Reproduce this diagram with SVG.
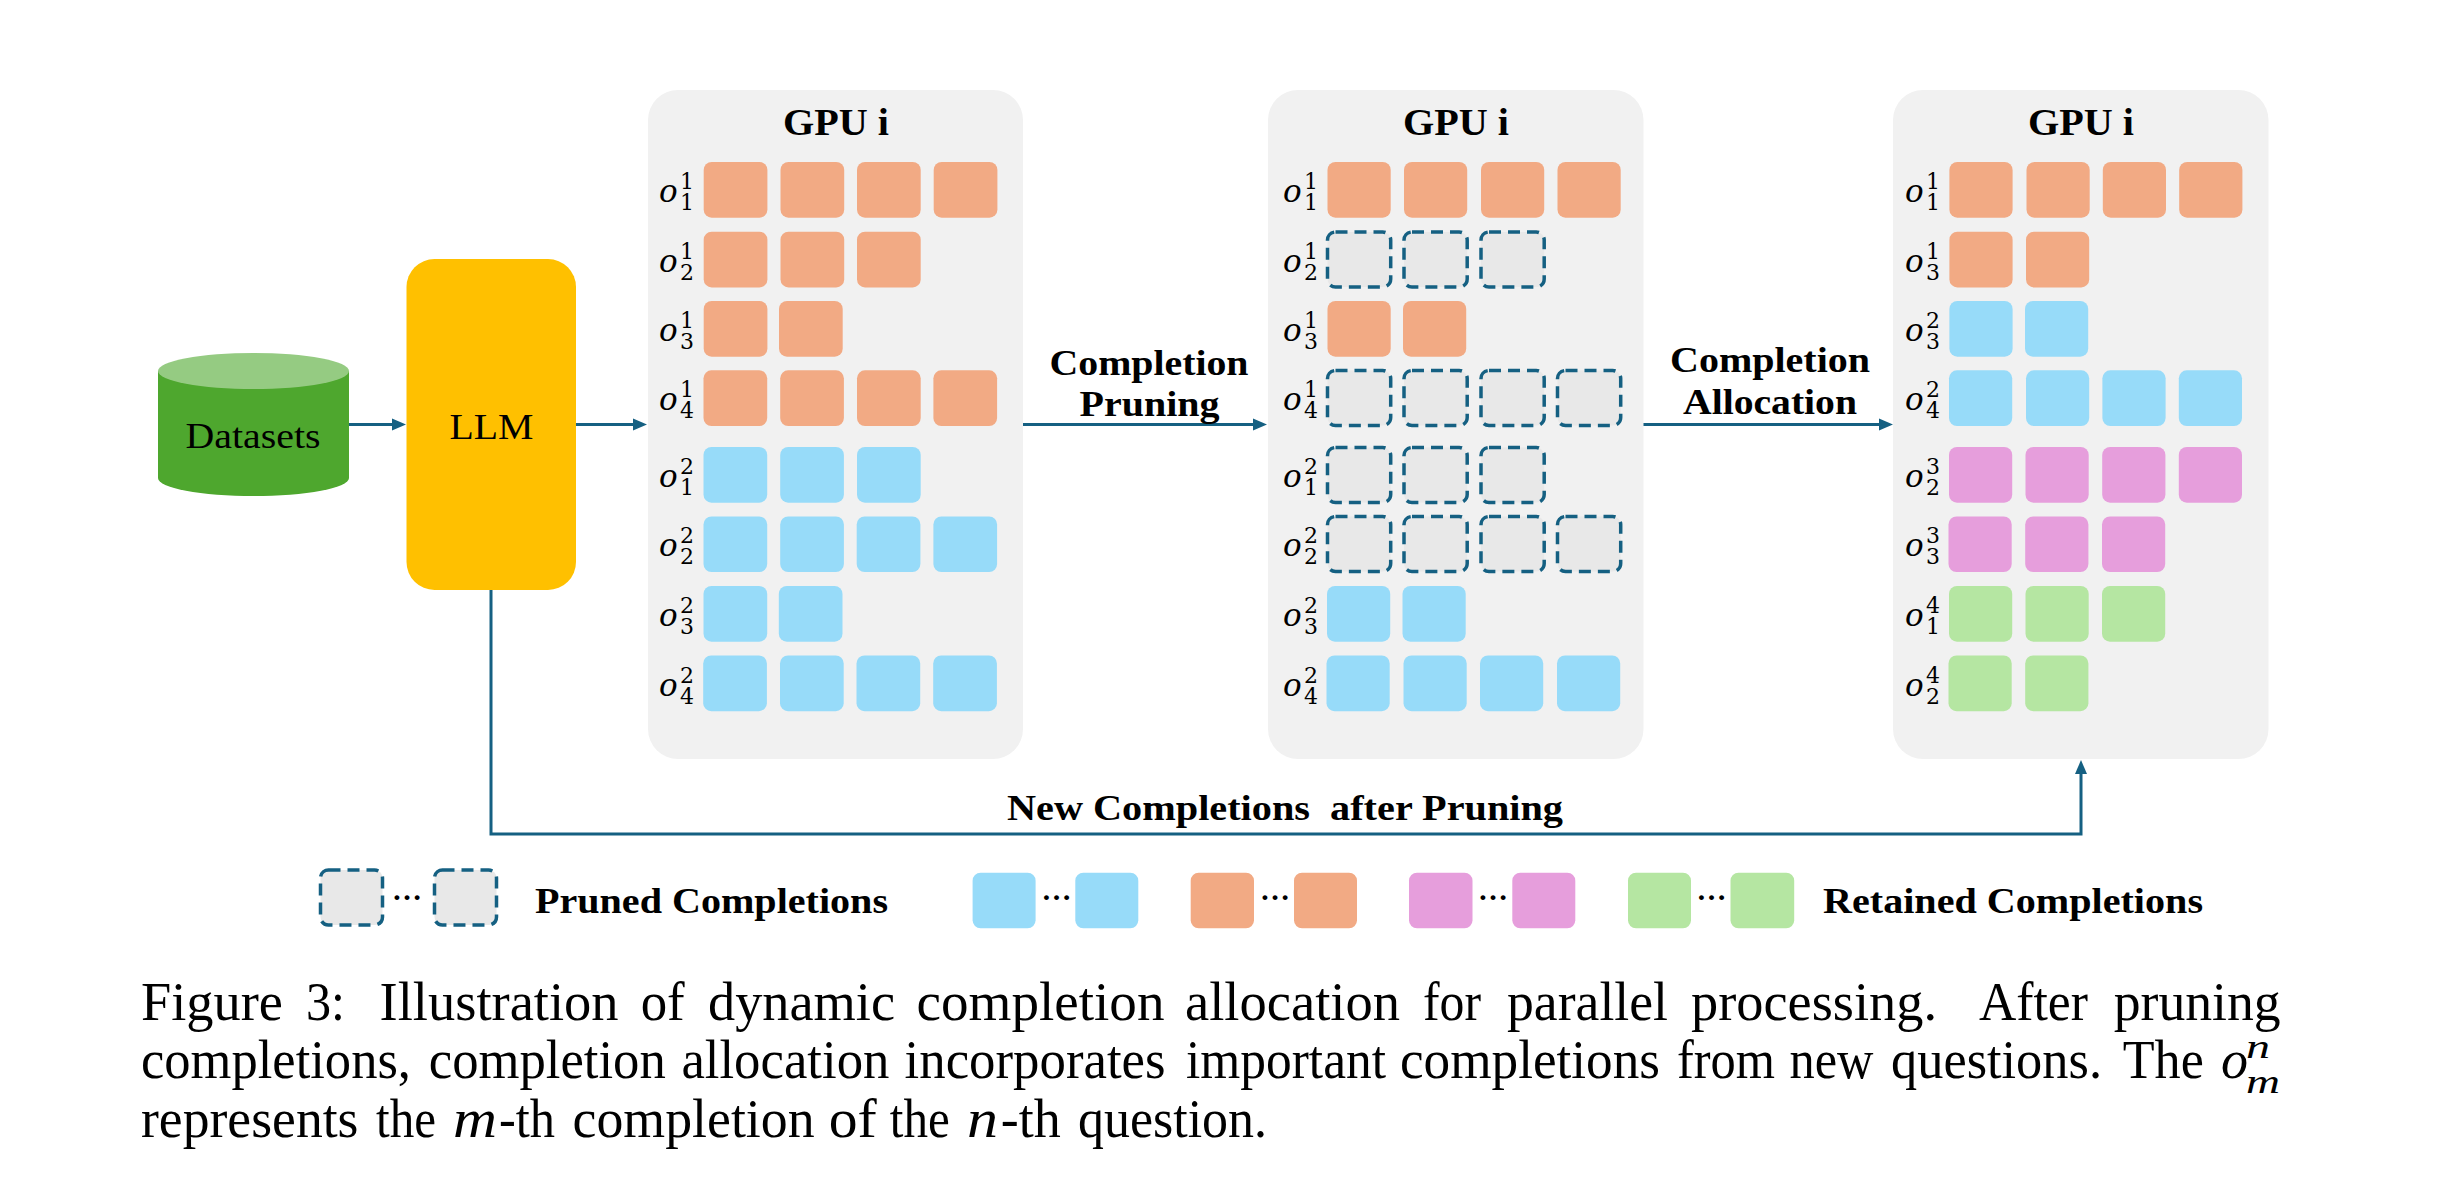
<svg xmlns="http://www.w3.org/2000/svg" width="2454" height="1194" viewBox="0 0 2454 1194">
<style>
text{font-family:"Liberation Serif","Times New Roman",serif;fill:#000}
.panel{fill:#f1f1f1}
.o{fill:#f2aa84}.b{fill:#97dbf9}.p{fill:#e69edc}.g{fill:#b5e6a2}
.x{fill:#e8e8e8;stroke:#156082;stroke-width:3.5;stroke-dasharray:12 7}
.h{font-weight:bold;font-size:37px}
.lab{font-weight:bold;font-size:36px;white-space:pre}
.mo{font-family:"DejaVu Serif",serif;font-style:italic;font-size:31px}
.md{font-family:"DejaVu Serif",serif;font-size:22px}
.dots{font-size:30px;font-weight:bold}
.cap{font-size:54px}
.it{font-style:italic}
.line{fill:none;stroke:#156082;stroke-width:3}
</style>
<defs>
<marker id="arrow" markerUnits="userSpaceOnUse" markerWidth="15" markerHeight="14" refX="6" refY="7" orient="auto"><path d="M0 1L14 7L0 13z" fill="#156082"/></marker>
</defs>
<g id="connectors">
<path class="line" d="M349 424.5H398" marker-end="url(#arrow)"/>
<path class="line" d="M576 424.5H639" marker-end="url(#arrow)"/>
<path class="line" d="M1023 424.5H1259" marker-end="url(#arrow)"/>
<path class="line" d="M1643 424.5H1885" marker-end="url(#arrow)"/>
<path class="line" d="M491 590V834H2081V768" marker-end="url(#arrow)"/>
<text class="lab" x="1049.5" y="374.5" textLength="199" lengthAdjust="spacingAndGlyphs">Completion</text>
<text class="lab" x="1079.5" y="416" textLength="140" lengthAdjust="spacingAndGlyphs">Pruning</text>
<text class="lab" x="1670" y="372" textLength="200" lengthAdjust="spacingAndGlyphs">Completion</text>
<text class="lab" x="1683" y="413.5" textLength="174" lengthAdjust="spacingAndGlyphs">Allocation</text>
<text class="lab" x="1007" y="820" textLength="556" lengthAdjust="spacingAndGlyphs">New Completions  after Pruning</text>
</g>
<g id="datasets">
<path d="M158 371V478A95.5 18 0 0 0 349 478V371z" fill="#4ea72e"/>
<ellipse cx="253.5" cy="371" rx="95.5" ry="18" fill="#95cb82"/>
<text x="185.5" y="447.5" font-size="36" textLength="135" lengthAdjust="spacingAndGlyphs">Datasets</text>
</g>
<g id="llm">
<rect x="406.5" y="259" width="169.5" height="331" rx="28" fill="#ffc000"/>
<text x="449.5" y="439" font-size="36" textLength="84" lengthAdjust="spacingAndGlyphs">LLM</text>
</g>
<g id="panel1">
<rect class="panel" x="648" y="90" width="375" height="669" rx="30"/>
<text class="h" x="783" y="135" textLength="106" lengthAdjust="spacingAndGlyphs">GPU i</text>
<text><tspan class="mo" x="659" y="202">o</tspan><tspan class="md" x="680" y="189">1</tspan><tspan class="md" x="680" y="210">1</tspan></text>
<text><tspan class="mo" x="659" y="271.7">o</tspan><tspan class="md" x="680" y="258.7">1</tspan><tspan class="md" x="680" y="279.7">2</tspan></text>
<text><tspan class="mo" x="659" y="341">o</tspan><tspan class="md" x="680" y="328">1</tspan><tspan class="md" x="680" y="349">3</tspan></text>
<text><tspan class="mo" x="659" y="410.3">o</tspan><tspan class="md" x="680" y="397.3">1</tspan><tspan class="md" x="680" y="418.3">4</tspan></text>
<text><tspan class="mo" x="659" y="487">o</tspan><tspan class="md" x="680" y="474">2</tspan><tspan class="md" x="680" y="495">1</tspan></text>
<text><tspan class="mo" x="659" y="556.4">o</tspan><tspan class="md" x="680" y="543.4">2</tspan><tspan class="md" x="680" y="564.4">2</tspan></text>
<text><tspan class="mo" x="659" y="626">o</tspan><tspan class="md" x="680" y="613">2</tspan><tspan class="md" x="680" y="634">3</tspan></text>
<text><tspan class="mo" x="659" y="695.5">o</tspan><tspan class="md" x="680" y="682.5">2</tspan><tspan class="md" x="680" y="703.5">4</tspan></text>
<rect class="o" x="703.7" y="162" width="63.7" height="55.7" rx="8"/><rect class="o" x="780.5" y="162" width="63.7" height="55.7" rx="8"/><rect class="o" x="857" y="162" width="63.7" height="55.7" rx="8"/><rect class="o" x="933.7" y="162" width="63.7" height="55.7" rx="8"/>
<rect class="o" x="703.7" y="231.7" width="63.7" height="55.7" rx="8"/><rect class="o" x="780.5" y="231.7" width="63.7" height="55.7" rx="8"/><rect class="o" x="857" y="231.7" width="63.7" height="55.7" rx="8"/>
<rect class="o" x="703.7" y="301" width="63.7" height="55.7" rx="8"/><rect class="o" x="779" y="301" width="63.7" height="55.7" rx="8"/>
<rect class="o" x="703.5" y="370.3" width="63.7" height="55.7" rx="8"/><rect class="o" x="780.2" y="370.3" width="63.7" height="55.7" rx="8"/><rect class="o" x="857" y="370.3" width="63.7" height="55.7" rx="8"/><rect class="o" x="933.4" y="370.3" width="63.7" height="55.7" rx="8"/>
<rect class="b" x="703.5" y="447" width="63.7" height="55.7" rx="8"/><rect class="b" x="780.2" y="447" width="63.7" height="55.7" rx="8"/><rect class="b" x="857" y="447" width="63.7" height="55.7" rx="8"/>
<rect class="b" x="703.5" y="516.4" width="63.7" height="55.7" rx="8"/><rect class="b" x="780.2" y="516.4" width="63.7" height="55.7" rx="8"/><rect class="b" x="856.7" y="516.4" width="63.7" height="55.7" rx="8"/><rect class="b" x="933.4" y="516.4" width="63.7" height="55.7" rx="8"/>
<rect class="b" x="703.5" y="586" width="63.7" height="55.7" rx="8"/><rect class="b" x="778.8" y="586" width="63.7" height="55.7" rx="8"/>
<rect class="b" x="703.2" y="655.5" width="63.7" height="55.7" rx="8"/><rect class="b" x="780" y="655.5" width="63.7" height="55.7" rx="8"/><rect class="b" x="856.5" y="655.5" width="63.7" height="55.7" rx="8"/><rect class="b" x="933.2" y="655.5" width="63.7" height="55.7" rx="8"/>
</g>
<g id="panel2">
<rect class="panel" x="1268" y="90" width="375.5" height="669" rx="30"/>
<text class="h" x="1403" y="135" textLength="106" lengthAdjust="spacingAndGlyphs">GPU i</text>
<text><tspan class="mo" x="1283" y="202">o</tspan><tspan class="md" x="1304" y="189">1</tspan><tspan class="md" x="1304" y="210">1</tspan></text>
<text><tspan class="mo" x="1283" y="271.7">o</tspan><tspan class="md" x="1304" y="258.7">1</tspan><tspan class="md" x="1304" y="279.7">2</tspan></text>
<text><tspan class="mo" x="1283" y="341">o</tspan><tspan class="md" x="1304" y="328">1</tspan><tspan class="md" x="1304" y="349">3</tspan></text>
<text><tspan class="mo" x="1283" y="410.3">o</tspan><tspan class="md" x="1304" y="397.3">1</tspan><tspan class="md" x="1304" y="418.3">4</tspan></text>
<text><tspan class="mo" x="1283" y="487">o</tspan><tspan class="md" x="1304" y="474">2</tspan><tspan class="md" x="1304" y="495">1</tspan></text>
<text><tspan class="mo" x="1283" y="556.4">o</tspan><tspan class="md" x="1304" y="543.4">2</tspan><tspan class="md" x="1304" y="564.4">2</tspan></text>
<text><tspan class="mo" x="1283" y="626">o</tspan><tspan class="md" x="1304" y="613">2</tspan><tspan class="md" x="1304" y="634">3</tspan></text>
<text><tspan class="mo" x="1283" y="695.5">o</tspan><tspan class="md" x="1304" y="682.5">2</tspan><tspan class="md" x="1304" y="703.5">4</tspan></text>
<rect class="o" x="1327.5" y="162" width="63.2" height="55.7" rx="8"/><rect class="o" x="1404" y="162" width="63.2" height="55.7" rx="8"/><rect class="o" x="1481" y="162" width="63.2" height="55.7" rx="8"/><rect class="o" x="1557.5" y="162" width="63.2" height="55.7" rx="8"/>
<rect class="x" x="1327.5" y="232" width="63.2" height="55" rx="8"/><rect class="x" x="1404" y="232" width="63.2" height="55" rx="8"/><rect class="x" x="1481" y="232" width="63.2" height="55" rx="8"/>
<rect class="o" x="1327.5" y="301" width="63.2" height="55.7" rx="8"/><rect class="o" x="1403" y="301" width="63.2" height="55.7" rx="8"/>
<rect class="x" x="1327.5" y="370.5" width="63.2" height="55" rx="8"/><rect class="x" x="1404" y="370.5" width="63.2" height="55" rx="8"/><rect class="x" x="1481" y="370.5" width="63.2" height="55" rx="8"/><rect class="x" x="1557.5" y="370.5" width="63.2" height="55" rx="8"/>
<rect class="x" x="1327.5" y="447.5" width="63.2" height="55" rx="8"/><rect class="x" x="1404" y="447.5" width="63.2" height="55" rx="8"/><rect class="x" x="1481" y="447.5" width="63.2" height="55" rx="8"/>
<rect class="x" x="1327.5" y="516.5" width="63.2" height="55" rx="8"/><rect class="x" x="1404" y="516.5" width="63.2" height="55" rx="8"/><rect class="x" x="1481" y="516.5" width="63.2" height="55" rx="8"/><rect class="x" x="1557.5" y="516.5" width="63.2" height="55" rx="8"/>
<rect class="b" x="1327" y="586" width="63.2" height="55.7" rx="8"/><rect class="b" x="1402.5" y="586" width="63.2" height="55.7" rx="8"/>
<rect class="b" x="1326.5" y="655.5" width="63.2" height="55.7" rx="8"/><rect class="b" x="1403.5" y="655.5" width="63.2" height="55.7" rx="8"/><rect class="b" x="1480" y="655.5" width="63.2" height="55.7" rx="8"/><rect class="b" x="1557" y="655.5" width="63.2" height="55.7" rx="8"/>
</g>
<g id="panel3">
<rect class="panel" x="1893" y="90" width="375.5" height="669" rx="30"/>
<text class="h" x="2028" y="135" textLength="106" lengthAdjust="spacingAndGlyphs">GPU i</text>
<text><tspan class="mo" x="1905" y="202">o</tspan><tspan class="md" x="1926" y="189">1</tspan><tspan class="md" x="1926" y="210">1</tspan></text>
<text><tspan class="mo" x="1905" y="271.7">o</tspan><tspan class="md" x="1926" y="258.7">1</tspan><tspan class="md" x="1926" y="279.7">3</tspan></text>
<text><tspan class="mo" x="1905" y="341">o</tspan><tspan class="md" x="1926" y="328">2</tspan><tspan class="md" x="1926" y="349">3</tspan></text>
<text><tspan class="mo" x="1905" y="410.3">o</tspan><tspan class="md" x="1926" y="397.3">2</tspan><tspan class="md" x="1926" y="418.3">4</tspan></text>
<text><tspan class="mo" x="1905" y="487">o</tspan><tspan class="md" x="1926" y="474">3</tspan><tspan class="md" x="1926" y="495">2</tspan></text>
<text><tspan class="mo" x="1905" y="556.4">o</tspan><tspan class="md" x="1926" y="543.4">3</tspan><tspan class="md" x="1926" y="564.4">3</tspan></text>
<text><tspan class="mo" x="1905" y="626">o</tspan><tspan class="md" x="1926" y="613">4</tspan><tspan class="md" x="1926" y="634">1</tspan></text>
<text><tspan class="mo" x="1905" y="695.5">o</tspan><tspan class="md" x="1926" y="682.5">4</tspan><tspan class="md" x="1926" y="703.5">2</tspan></text>
<rect class="o" x="1949.4" y="162" width="63.2" height="55.7" rx="8"/><rect class="o" x="2026.5" y="162" width="63.2" height="55.7" rx="8"/><rect class="o" x="2102.8" y="162" width="63.2" height="55.7" rx="8"/><rect class="o" x="2179.2" y="162" width="63.2" height="55.7" rx="8"/>
<rect class="o" x="1949.4" y="231.7" width="63.2" height="55.7" rx="8"/><rect class="o" x="2026" y="231.7" width="63.2" height="55.7" rx="8"/>
<rect class="b" x="1949.4" y="301" width="63.2" height="55.7" rx="8"/><rect class="b" x="2025" y="301" width="63.2" height="55.7" rx="8"/>
<rect class="b" x="1949" y="370.3" width="63.2" height="55.7" rx="8"/><rect class="b" x="2026" y="370.3" width="63.2" height="55.7" rx="8"/><rect class="b" x="2102.4" y="370.3" width="63.2" height="55.7" rx="8"/><rect class="b" x="2178.8" y="370.3" width="63.2" height="55.7" rx="8"/>
<rect class="p" x="1949" y="447" width="63.2" height="55.7" rx="8"/><rect class="p" x="2025.5" y="447" width="63.2" height="55.7" rx="8"/><rect class="p" x="2102.2" y="447" width="63.2" height="55.7" rx="8"/><rect class="p" x="2178.8" y="447" width="63.2" height="55.7" rx="8"/>
<rect class="p" x="1948.5" y="516.4" width="63.2" height="55.7" rx="8"/><rect class="p" x="2025.2" y="516.4" width="63.2" height="55.7" rx="8"/><rect class="p" x="2102" y="516.4" width="63.2" height="55.7" rx="8"/>
<rect class="g" x="1949" y="586" width="63.2" height="55.7" rx="8"/><rect class="g" x="2025.5" y="586" width="63.2" height="55.7" rx="8"/><rect class="g" x="2102" y="586" width="63.2" height="55.7" rx="8"/>
<rect class="g" x="1948.5" y="655.5" width="63.2" height="55.7" rx="8"/><rect class="g" x="2025.2" y="655.5" width="63.2" height="55.7" rx="8"/>
</g>
<g id="legend">
<rect class="x" x="320.5" y="870" width="62" height="55" rx="8"/><text class="dots" x="392" y="900">…</text><rect class="x" x="434.5" y="870" width="62" height="55" rx="8"/>
<text class="lab" x="535" y="912.5" textLength="353" lengthAdjust="spacingAndGlyphs">Pruned Completions</text>
<rect class="b" x="972.6" y="872.7" width="63" height="55.6" rx="8"/><text class="dots" x="1041.5" y="900">…</text><rect class="b" x="1075.3" y="872.7" width="63" height="55.6" rx="8"/>
<rect class="o" x="1190.7" y="872.7" width="63.3" height="55.6" rx="8"/><text class="dots" x="1260" y="900">…</text><rect class="o" x="1294" y="872.7" width="63" height="55.6" rx="8"/>
<rect class="p" x="1409" y="872.7" width="63.5" height="55.6" rx="8"/><text class="dots" x="1478" y="900">…</text><rect class="p" x="1512.3" y="872.7" width="63" height="55.6" rx="8"/>
<rect class="g" x="1628" y="872.7" width="63" height="55.6" rx="8"/><text class="dots" x="1696.5" y="900">…</text><rect class="g" x="1730.5" y="872.7" width="63.7" height="55.6" rx="8"/>
<text class="lab" x="1823" y="912.5" textLength="380" lengthAdjust="spacingAndGlyphs">Retained Completions</text>
</g>
<g id="caption">
<text class="cap" y="1020"><tspan x="141" textLength="142" lengthAdjust="spacingAndGlyphs">Figure</tspan> <tspan x="306" textLength="39" lengthAdjust="spacingAndGlyphs">3:</tspan> <tspan x="379.6" textLength="239" lengthAdjust="spacingAndGlyphs">Illustration</tspan> <tspan x="640.7" textLength="44" lengthAdjust="spacingAndGlyphs">of</tspan> <tspan x="708" textLength="187" lengthAdjust="spacingAndGlyphs">dynamic</tspan> <tspan x="916.5" textLength="248" lengthAdjust="spacingAndGlyphs">completion</tspan> <tspan x="1185" textLength="215" lengthAdjust="spacingAndGlyphs">allocation</tspan> <tspan x="1423" textLength="58" lengthAdjust="spacingAndGlyphs">for</tspan> <tspan x="1507" textLength="161" lengthAdjust="spacingAndGlyphs">parallel</tspan> <tspan x="1691" textLength="246" lengthAdjust="spacingAndGlyphs">processing.</tspan> <tspan x="1979" textLength="109" lengthAdjust="spacingAndGlyphs">After</tspan> <tspan x="2113.7" textLength="167" lengthAdjust="spacingAndGlyphs">pruning</tspan></text>
<text class="cap" y="1078.3"><tspan x="141" textLength="270" lengthAdjust="spacingAndGlyphs">completions,</tspan> <tspan x="428.8" textLength="237" lengthAdjust="spacingAndGlyphs">completion</tspan> <tspan x="681.4" textLength="208" lengthAdjust="spacingAndGlyphs">allocation</tspan> <tspan x="904.6" textLength="261" lengthAdjust="spacingAndGlyphs">incorporates</tspan> <tspan x="1186" textLength="200" lengthAdjust="spacingAndGlyphs">important</tspan> <tspan x="1400" textLength="260" lengthAdjust="spacingAndGlyphs">completions</tspan> <tspan x="1677" textLength="98" lengthAdjust="spacingAndGlyphs">from</tspan> <tspan x="1789.5" textLength="84" lengthAdjust="spacingAndGlyphs">new</tspan> <tspan x="1891" textLength="211" lengthAdjust="spacingAndGlyphs">questions.</tspan> <tspan x="2122.8" textLength="81" lengthAdjust="spacingAndGlyphs">The</tspan> <tspan class="it" x="2221">o</tspan></text>
<text class="it" font-size="33" x="2246" y="1058" textLength="24" lengthAdjust="spacingAndGlyphs">n</text>
<text class="it" font-size="33" x="2246" y="1093" textLength="34" lengthAdjust="spacingAndGlyphs">m</text>
<text class="cap" y="1137"><tspan x="141" textLength="217.5" lengthAdjust="spacingAndGlyphs">represents</tspan> <tspan x="376" textLength="60" lengthAdjust="spacingAndGlyphs">the</tspan> <tspan class="it" x="453" textLength="44" lengthAdjust="spacingAndGlyphs">m</tspan><tspan x="499" textLength="56" lengthAdjust="spacingAndGlyphs">-th</tspan> <tspan x="572.6" textLength="242" lengthAdjust="spacingAndGlyphs">completion</tspan> <tspan x="828.8" textLength="48" lengthAdjust="spacingAndGlyphs">of</tspan> <tspan x="889.8" textLength="60" lengthAdjust="spacingAndGlyphs">the</tspan> <tspan class="it" x="967" textLength="31" lengthAdjust="spacingAndGlyphs">n</tspan><tspan x="1000.7" textLength="60" lengthAdjust="spacingAndGlyphs">-th</tspan> <tspan x="1078" textLength="189" lengthAdjust="spacingAndGlyphs">question.</tspan></text>
</g>
</svg>
